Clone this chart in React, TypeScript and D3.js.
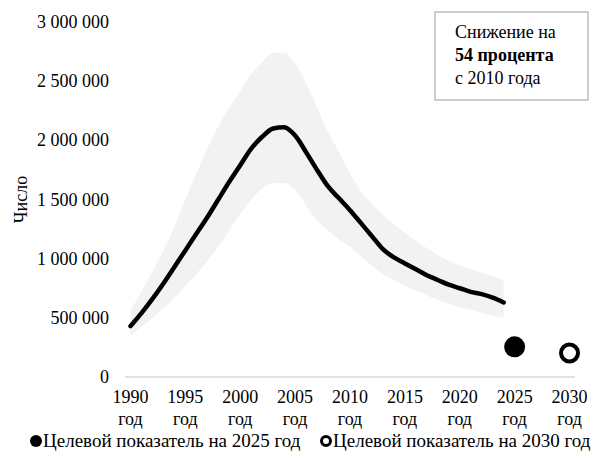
import React from 'react';
import * as D3 from 'd3';

const dimensions = {
    width: 591,
    height: 456,
    margin: { left: 125, right: 16, top: 22, bottom: 79 },
}

const years = D3.range(1990, 2031);
const tickYears = [1990, 1995, 2000, 2005, 2010, 2015, 2020, 2025, 2030];

// observed series, 1990..2024
const lineYears = D3.range(1990, 2025);
const estimate = [
    430000, 540000, 660000, 790000, 930000, 1070000, 1210000, 1350000, 1500000, 1650000,
    1790000, 1930000, 2030000, 2100000, 2110000, 2040000, 1900000, 1750000, 1610000, 1510000,
    1410000, 1300000, 1190000, 1080000, 1010000, 960000, 910000, 860000, 820000, 780000,
    750000, 720000, 700000, 670000, 630000,
];
const upper = [
    560000, 720000, 890000, 1070000, 1270000, 1500000, 1720000, 1930000, 2120000, 2280000,
    2420000, 2560000, 2660000, 2740000, 2740000, 2650000, 2480000, 2280000, 2070000, 1900000,
    1720000, 1570000, 1460000, 1370000, 1290000, 1220000, 1150000, 1090000, 1030000, 980000,
    940000, 910000, 880000, 850000, 820000,
];
const lower = [
    350000, 420000, 500000, 580000, 670000, 770000, 870000, 980000, 1100000, 1240000,
    1380000, 1500000, 1590000, 1640000, 1640000, 1580000, 1450000, 1320000, 1240000, 1160000,
    1100000, 1020000, 940000, 870000, 820000, 770000, 730000, 690000, 650000, 620000,
    590000, 570000, 540000, 520000, 500000,
];

const targetYears = [2025, 2030];
const targetValues = [255000, 203000];
const legendLabels = ['Целевой показатель на 2025 год', 'Целевой показатель на 2030 год'];

const txt = { fontFamily: 'Liberation Serif', fontSize: 18 };

const xBand = D3.scaleBand<number>()
    .domain(years)
    .range([dimensions.margin.left, dimensions.width - dimensions.margin.right]);
const x = (yr: number) => (xBand(yr) as number) + xBand.bandwidth() / 2;

const y = D3.scaleLinear()
    .domain([0, 3000000])
    .range([dimensions.height - dimensions.margin.bottom, dimensions.margin.top]);

const App = () => {
    const rows = lineYears.map((yr, i) => ({ yr, v: estimate[i], hi: upper[i], lo: lower[i] }));

    const area = D3.area<any>()
        .x(d => x(d.yr))
        .y0(d => y(d.lo))
        .y1(d => y(d.hi))
        .curve(D3.curveMonotoneX);

    const line = D3.line<any>()
        .x(d => x(d.yr))
        .y(d => y(d.v))
        .curve(D3.curveMonotoneX);

    const fmt = (d: number) => D3.format(',')(d).replace(/,/g, ' ');
    const legendY = 441;

    return (
        <svg width={dimensions.width} height={dimensions.height}
            style={{ display: 'block', position: 'absolute', left: 0, top: 0 }}>
            {/* uncertainty band */}
            <path d={area(rows) as string} fill="#f2f2f2" />

            {/* x axis line */}
            <line x1={dimensions.margin.left} x2={dimensions.width - dimensions.margin.right}
                y1={y(0)} y2={y(0)} stroke="#d9d9d9" strokeWidth={1.5} />

            {/* estimate line */}
            <path d={line(rows) as string} fill="none" stroke="#000" strokeWidth={4.5}
                strokeLinecap="round" strokeLinejoin="round" />

            {/* targets */}
            <circle cx={x(targetYears[0])} cy={y(targetValues[0])} r={10.5} fill="#000" />
            <circle cx={x(targetYears[1])} cy={y(targetValues[1])} r={8.5} fill="#fff"
                stroke="#000" strokeWidth={4} />

            {/* y tick labels */}
            {y.ticks(6).map(d => (
                <text key={d} x={109} y={y(d)} dy="0.34em" textAnchor="end" style={txt}>{fmt(d)}</text>
            ))}

            {/* x tick labels */}
            {tickYears.map(d => (
                <text key={d} textAnchor="middle" style={txt}>
                    <tspan x={x(d)} y={403}>{d}</tspan>
                    <tspan x={x(d)} y={425}>год</tspan>
                </text>
            ))}

            {/* y title */}
            <text transform={`translate(27, ${y(1500000)}) rotate(-90)`} textAnchor="middle" style={txt}>Число</text>

            {/* annotation box */}
            <rect x={435} y={12} width={153} height={88} fill="#fff" stroke="#bfbfbf" strokeWidth={1.5} />
            <text style={txt}>
                <tspan x={455} y={38}>Снижение на</tspan>
                <tspan x={455} y={61} fontWeight="bold">54 процента</tspan>
                <tspan x={455} y={84}>с 2010 года</tspan>
            </text>

            {/* legend */}
            <circle cx={36} cy={legendY} r={6} fill="#000" />
            <text x={43} y={legendY + 6} style={{ ...txt, fontSize: 19 }}>{legendLabels[0]}</text>
            <circle cx={326} cy={legendY} r={4.5} fill="#fff" stroke="#000" strokeWidth={3} />
            <text x={333} y={legendY + 6} style={{ ...txt, fontSize: 19 }}>{legendLabels[1]}</text>
        </svg>
    );
}

export default App;
